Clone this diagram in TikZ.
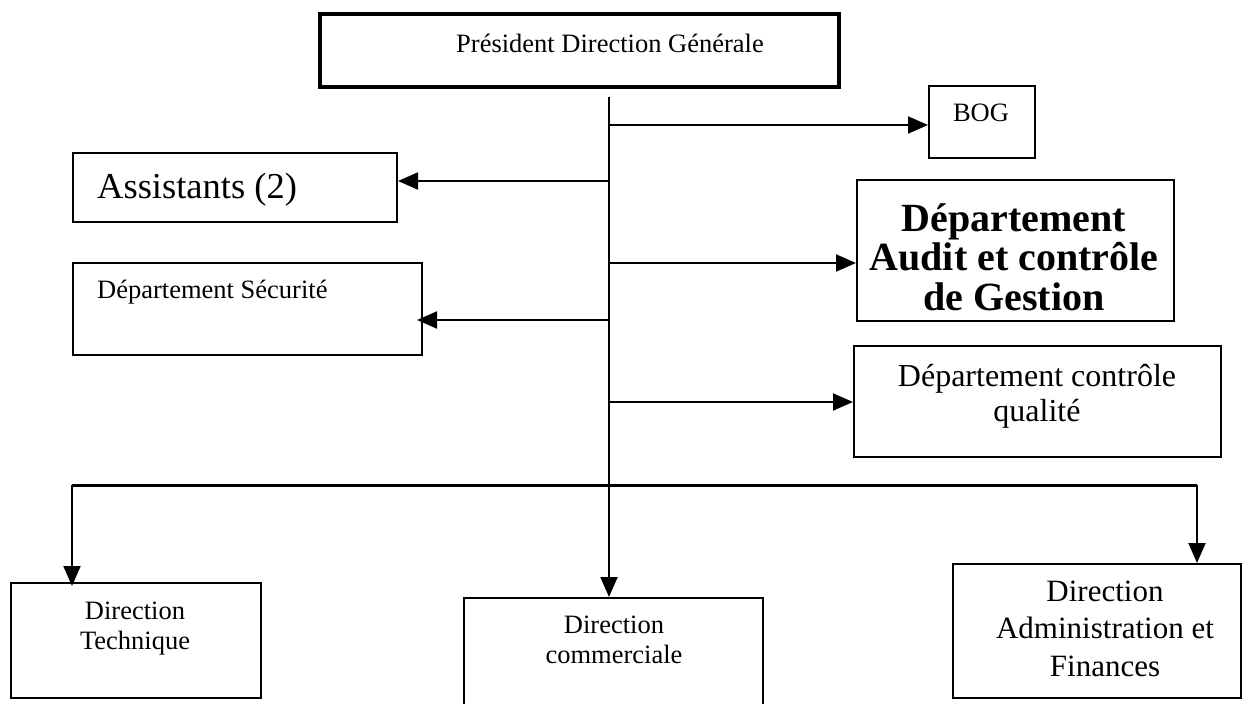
\documentclass[tikz,border=0pt]{standalone}
\usepackage{fontspec}
\setmainfont{Liberation Serif}
\usetikzlibrary{arrows.meta,positioning}

\begin{document}
\begin{tikzpicture}[
    x=1pt, y=-1pt,
    box/.style={rectangle, draw=black, line width=2pt, inner sep=0pt, anchor=north west},
    txt/.style={inner sep=0pt, anchor=base, align=center, font=\fontsize{26.5pt}{30pt}\selectfont},
    midtxt/.style={txt, font=\fontsize{31pt}{37.5pt}\selectfont},
    arrow/.style={-{Triangle[length=20pt,width=17pt]}, line width=2pt, draw=black},
    link/.style={line width=3pt, draw=black}
]
\useasboundingbox (0,0) rectangle (1243,704);

% Head
\node [box, line width=3.5pt, minimum width=519pt, minimum height=73pt] (pdg) at (318,12) {};
\node [txt] (pdgtxt) at (610,52) {Président Direction Générale};

% Staff on the right
\node [box, minimum width=106pt, minimum height=72pt] (bog) at (928,85) {};
\node [txt] (bogtxt) at (981,121) {BOG};
\node [box, minimum width=317pt, minimum height=141pt] (audit) at (856,179) {};
\node [txt, font=\fontsize{40pt}{39.5pt}\selectfont\bfseries] (audittxt) at (1014,310) {Département\\Audit et contrôle\\de Gestion};
\node [box, minimum width=367pt, minimum height=111pt] (qualite) at (853,345) {};
\node [txt, font=\fontsize{32pt}{35pt}\selectfont] (qualitetxt) at (1037,421) {Département contrôle\\qualité};

% Staff on the left
\node [box, minimum width=324pt, minimum height=69pt] (assist) at (72,152) {};
\node [txt, anchor=base west, font=\fontsize{36.5pt}{40pt}\selectfont] (assisttxt) at (97,198) {Assistants (2)};
\node [box, minimum width=349pt, minimum height=92pt] (secu) at (72,262) {};
\node [txt, anchor=base west] (secutxt) at (97,298) {Département Sécurité};

% Directions
\node [box, minimum width=250pt, minimum height=115pt] (tech) at (10,582) {};
\node [txt] (techtxt) at (135,649) {Direction\\Technique};
\node [box, minimum width=299pt, minimum height=120pt] (comm) at (463,597) {};
\node [txt] (commtxt) at (614,663) {Direction\\commerciale};
\node [box, minimum width=288pt, minimum height=134pt] (daf) at (952,563) {};
\node [midtxt] (daftxt) at (1105,676) {Direction\\Administration et\\Finances};

% Trunk and junctions
\coordinate (top) at (609,97);
\coordinate (jbog) at (609,125);
\coordinate (jassist) at (609,181);
\coordinate (jaudit) at (609,263);
\coordinate (jsecu) at (609,320);
\coordinate (jqualite) at (609,402);
\coordinate (busL) at (72,485);
\coordinate (busR) at (1197,485);

\draw [arrow] (top) -- (top |- comm.north);
\draw [arrow] (jbog) -- (jbog -| bog.west);
\draw [arrow] (jassist) -- (jassist -| assist.east);
\draw [arrow] (jaudit) -- (jaudit -| audit.west);
\draw [arrow] (jsecu) -- ([xshift=-6pt]jsecu -| secu.east);
\draw [arrow] (jqualite) -- (jqualite -| qualite.west);

% Bus to the directions
\draw [link] (busL) -- (busR);
\draw [arrow] (busL) -- ([yshift=-4pt]busL |- tech.north);
\draw [arrow] (busR) -- (busR |- daf.north);

\end{tikzpicture}
\end{document}
